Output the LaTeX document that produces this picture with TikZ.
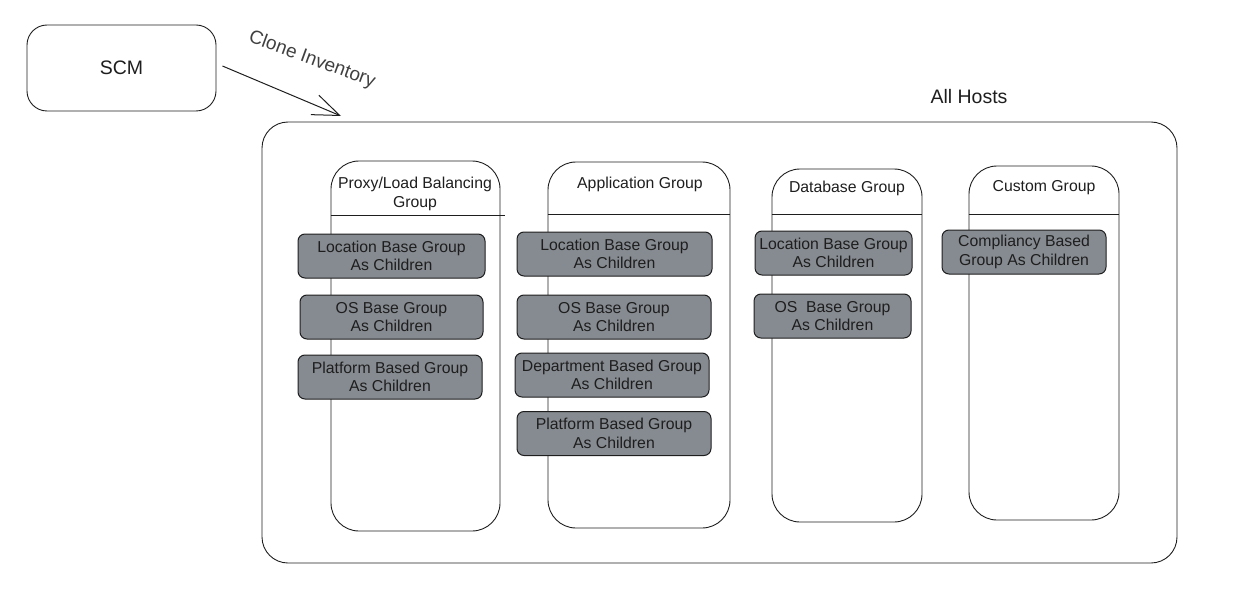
\documentclass[tikz,border=0pt]{standalone}
\usepackage{fontspec}
\setmainfont{Liberation Sans}
\usetikzlibrary{arrows.meta}
\definecolor{chip}{HTML}{868B91}
\definecolor{ink}{HTML}{1E1E1E}
\tikzset{
  frame/.style={draw=ink, line width=0.9pt, rounded corners=#1, inner sep=0pt},
  frame/.default=20pt,
  chipbox/.style={draw=ink, line width=1pt, fill=chip, rounded corners=7pt,
    minimum width=#1, minimum height=44pt, inner sep=0pt, align=center,
    font=\fontsize{15.8}{18.5}\selectfont, text=ink},
  title/.style={align=center, font=\fontsize{15.8}{18.5}\selectfont, text=ink},
}
\begin{document}
\begin{tikzpicture}[x=1pt,y=-1pt]
\useasboundingbox (0,0) rectangle (1241,604);
% SCM
\node[frame=20pt, minimum width=189pt, minimum height=86pt,
  font=\fontsize{19.5}{22}\selectfont, text=ink] (scm) at (121.5,68) {SCM};
% All hosts
\node[frame=26pt, minimum width=915pt, minimum height=441pt] (all) at (719.5,342.5) {};
\node[font=\fontsize{19.5}{22}\selectfont, text=ink] (alltitle) at (969,97) {All Hosts};
% arrow
\coordinate (tip) at (341,116);
\draw[ink, line width=1pt, -{Straight Barb[length=27pt,width=21pt]}]
  ([shift={(6,-2)}]scm.east) -- (tip);
\node[rotate=-20, font=\fontsize{19}{22}\selectfont, text=ink!85] (clone) at (312,60) {Clone Inventory};
% columns
\node[frame=28pt, minimum width=169pt, minimum height=370pt] (c1) at (415.5,346) {};
\node[frame=28pt, minimum width=182pt, minimum height=366pt] (c2) at (639,345) {};
\node[frame=28pt, minimum width=150pt, minimum height=353pt] (c3) at (847,345.5) {};
\node[frame=28pt, minimum width=150pt, minimum height=354pt] (c4) at (1044,343) {};
\draw[ink, line width=0.9pt] (c1.west |- 0,215) -- (505,215);
\draw[ink, line width=0.9pt] (c2.west |- 0,214) -- (c2.east |- 0,214);
\draw[ink, line width=0.9pt] (c3.west |- 0,214) -- (c3.east |- 0,214);
\draw[ink, line width=0.9pt] (c4.west |- 0,214) -- (c4.east |- 0,214);
\node[title] (t1) at (415,194) {Proxy/Load Balancing\\Group};
\node[title] (t2) at (640,184) {Application Group};
\node[title] (t3) at (847,188) {Database Group};
\node[title] (t4) at (1044,188) {Custom Group};
% chips column 1
\node[chipbox=187pt] (c1a) at (391.5,256) {Location Base Group\\As Children};
\node[chipbox=183pt] (c1b) at (391.5,317) {OS Base Group\\As Children};
\node[chipbox=184pt] (c1c) at (390,377) {Platform Based Group\\As Children};
% column 2
\node[chipbox=195pt] (c2a) at (614.5,254) {Location Base Group\\As Children};
\node[chipbox=194pt] (c2b) at (614,317) {OS Base Group\\As Children};
\node[chipbox=194pt] (c2c) at (612,375) {Department Based Group\\As Children};
\node[chipbox=194pt] (c2d) at (614,433.5) {Platform Based Group\\As Children};
% column 3
\node[chipbox=157pt] (c3a) at (833.5,253) {Location Base Group\\As Children};
\node[chipbox=157pt] (c3b) at (832.5,316) {OS\ \ Base Group\\As Children};
% column 4
\node[chipbox=164pt] (c4a) at (1024,252) {Compliancy Based\\Group As Children};
\end{tikzpicture}
\end{document}
